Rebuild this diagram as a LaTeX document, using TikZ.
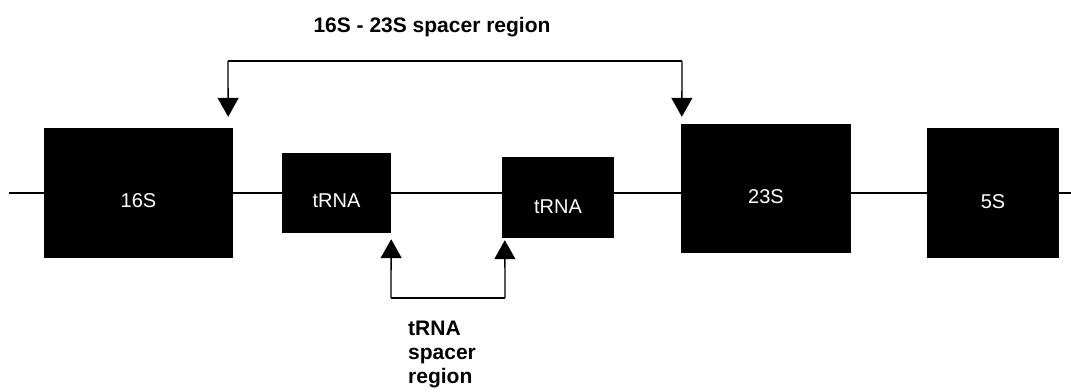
\documentclass[tikz,border=0pt]{standalone}
\usepackage{fontspec}
\setmainfont{Liberation Sans}
\usetikzlibrary{arrows.meta}
\tikzset{
  gene/.style={fill=black, draw=none, inner sep=0pt},
  genelabel/.style={text=white, inner sep=0pt, font=\fontsize{20}{24}\selectfont},
  backbone/.style={line width=1.3pt},
  bracket/.style={line width=1.3pt},
  arr/.style={line width=1.3pt, -{Triangle[width=21pt,length=19pt]}},
  heading/.style={inner sep=0pt, font=\fontsize{21}{24}\selectfont\bfseries}
}
\begin{document}
\begin{tikzpicture}[x=1pt,y=-1pt]
\useasboundingbox (0,0) rectangle (1071,391);
% backbone
\coordinate (lstart) at (9,193);
\coordinate (lend) at (1071,193);
\draw[backbone] (lstart) -- (lend);
% genes
\node[gene, minimum width=189pt, minimum height=130pt] (n16) at (138.5,193) {};
\node[gene, minimum width=109pt, minimum height=80pt] (t1) at (336.5,193) {};
\node[gene, minimum width=112pt, minimum height=81pt] (t2) at (558,197.5) {};
\node[gene, minimum width=170pt, minimum height=129pt] (n23) at (766,188.5) {};
\node[gene, minimum width=132pt, minimum height=130pt] (n5) at (993,193) {};
\node[genelabel] (l16) at ([yshift=-8pt]n16.center) {16S};
\node[genelabel] (lt1) at ([yshift=-8pt]t1.center) {tRNA};
\node[genelabel] (lt2) at ([yshift=-9pt]t2.center) {tRNA};
\node[genelabel] (l23) at ([yshift=-8.5pt]n23.center) {23S};
\node[genelabel] (l5) at ([yshift=-9pt]n5.center) {5S};
% top bracket
\coordinate (tl) at (228,61);
\coordinate (tr) at (682,61);
\draw[bracket] (tl) -- (tr);
\draw[arr] (tl) -- ([xshift=-5pt,yshift=11pt]n16.north east);
\draw[arr] (tr) -- ([xshift=1pt,yshift=7pt]n23.north west);
\node[heading, anchor=base] (title) at (432,32) {16S - 23S spacer region};
% bottom bracket
\coordinate (bl) at (391,298);
\coordinate (br) at (505,298);
\draw[bracket] (bl) -- (br);
\draw[arr] (bl) -- ([yshift=-6pt]t1.south east);
\draw[arr] (br) -- ([xshift=3pt,yshift=-2pt]t2.south west);
\node[heading, anchor=north west, align=left] (sub) at (408,321) {tRNA\\spacer\\region};
\end{tikzpicture}
\end{document}
